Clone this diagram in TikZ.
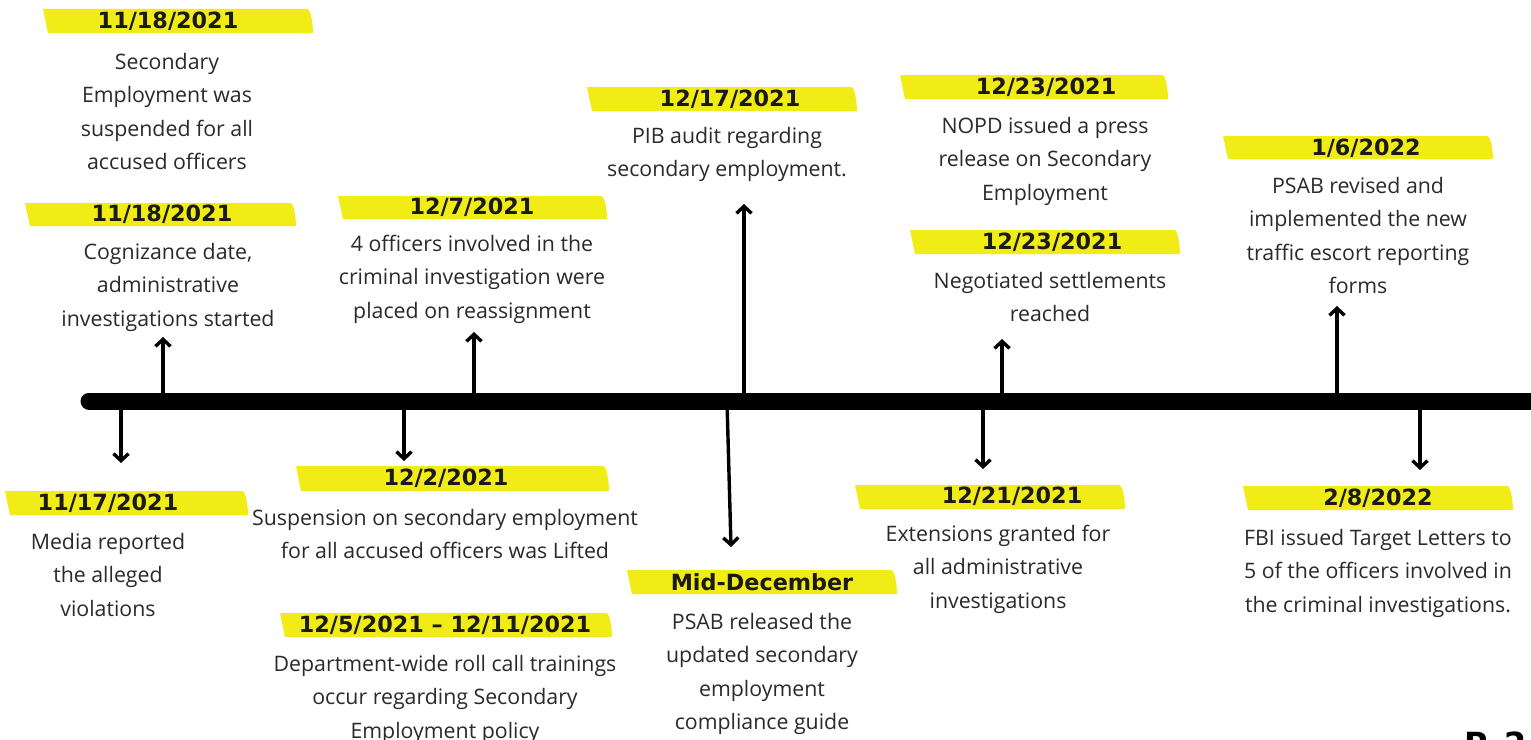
\documentclass[tikz,border=0pt]{standalone}
\usepackage{fontspec}
\setmainfont{Open Sans}
\newfontfamily\datefont{DejaVu Sans}
\usetikzlibrary{arrows.meta}
\definecolor{hly}{RGB}{241,236,22}
\definecolor{bodyc}{RGB}{42,42,42}
\definecolor{datec}{RGB}{26,26,26}
\tikzset{
  datetxt/.style={font=\datefont\bfseries\fontsize{22.4}{26}\selectfont, text=datec, inner sep=0pt},
  bodytxt/.style={font=\fontsize{21.4}{33.6}\selectfont, text=bodyc, align=center, inner sep=0pt, anchor=north},
  timeline/.style={line width=17bp, line cap=round, black},
  evarrow/.style={line width=3.4bp, -{Straight Barb[length=7bp,width=15bp]}, black},
}
% highlight: xl, yt, xr, yb
\newcommand\hlband[4]{%
  \fill[hly] (#1,#2) -- ({#3-6},#2) .. controls ({#3-2},#2) and (#3,{#4-8}) .. (#3,#4) -- ({#1+5},#4) -- cycle;}
\begin{document}
\begin{tikzpicture}[x=1bp,y=-1bp]
\useasboundingbox (0,0) rectangle (1531,740);
\fill[white] (0,0) rectangle (1531,740);

% timeline
\coordinate (tl) at (89,401);
\coordinate (tr) at (1560,401);
\draw[timeline] (tl) -- (tr);

% ---------- upper events ----------
\hlband{43}{9}{313}{33}
\node[datetxt] (d1) at (168,21) {11/18/2021};
\node[bodytxt] (b1) at (167,53) {Secondary\\Employment was\\suspended for all\\accused officers};

\hlband{25}{203}{296}{226}
\node[datetxt] (d2) at (162,214) {11/18/2021};
\node[bodytxt] (b2) at (168,243) {Cognizance date,\\administrative\\investigations started};

\hlband{338}{196}{607}{219}
\node[datetxt] (d3) at (472,207) {12/7/2021};
\node[bodytxt] (b3) at (472,235) {4 officers involved in the\\criminal investigation were\\placed on reassignment};

\hlband{587}{87}{857}{111}
\node[datetxt] (d4) at (730,99) {12/17/2021};
\node[bodytxt] (b4) at (727,127) {PIB audit regarding\\secondary employment.};

\hlband{900}{75}{1168}{99}
\node[datetxt] (d5) at (1046,87) {12/23/2021};
\node[bodytxt] (b5) at (1045,117) {NOPD issued a press\\release on Secondary\\Employment};

\hlband{910}{230}{1180}{254}
\node[datetxt] (d6) at (1052,242) {12/23/2021};
\node[bodytxt] (b6) at (1050,272) {Negotiated settlements\\reached};

\hlband{1223}{136}{1493}{159}
\node[datetxt] (d7) at (1366,148) {1/6/2022};
\node[bodytxt] (b7) at (1358,177) {PSAB revised and\\implemented the new\\traffic escort reporting\\forms};

% ---------- lower events ----------
\hlband{5}{491}{248}{515}
\node[datetxt] (d8) at (108,503) {11/17/2021};
\node[bodytxt] (b8) at (108,533) {Media reported\\the alleged\\violations};

\hlband{296}{466}{609}{491}
\node[datetxt] (d9) at (446,478) {12/2/2021};
\node[bodytxt] (b9) at (445,509) {Suspension on secondary employment\\for all accused officers was Lifted};

\hlband{280}{613}{612}{637}
\node[datetxt] (d10) at (445,625) {12/5/2021 – 12/11/2021};
\node[bodytxt] (b10) at (445,655) {Department-wide roll call trainings\\occur regarding Secondary\\Employment policy};

\hlband{627}{570}{897}{594}
\node[datetxt] (d11) at (762,582) {Mid-December};
\node[bodytxt] (b11) at (762,613) {PSAB released the\\updated secondary\\employment\\compliance guide};

\hlband{855}{485}{1125}{509}
\node[datetxt] (d12) at (1012,496) {12/21/2021};
\node[bodytxt] (b12) at (998,525) {Extensions granted for\\all administrative\\investigations};

\hlband{1243}{486}{1513}{510}
\node[datetxt] (d13) at (1378,498) {2/8/2022};
\node[bodytxt] (b13) at (1378,529) {FBI issued Target Letters to\\5 of the officers involved in\\the criminal investigations.};

% page number (cut off by page edge)
\node[font=\datefont\bfseries\fontsize{32}{38}\selectfont, anchor=north west, inner sep=0pt] (pg) at (1464,732) {P. 2};

% ---------- arrows ----------
\coordinate (u1s) at (163,401); \coordinate (u1e) at (163,337);
\coordinate (u2s) at (474,401); \coordinate (u2e) at (474,332);
\coordinate (u3s) at (744,401); \coordinate (u3e) at (744,204);
\coordinate (u4s) at (1002,401); \coordinate (u4e) at (1002,339);
\coordinate (u5s) at (1337,401); \coordinate (u5e) at (1337,306);
\coordinate (l1s) at (121,401); \coordinate (l1e) at (121,463);
\coordinate (l2s) at (404,401); \coordinate (l2e) at (404,461);
\coordinate (l3s) at (727,401); \coordinate (l3e) at (731,547);
\coordinate (l4s) at (983,401); \coordinate (l4e) at (983,469);
\coordinate (l5s) at (1420,401); \coordinate (l5e) at (1420,470);
\foreach \a in {u1,u2,u3,u4,u5,l1,l2,l3,l4,l5}
  \draw[evarrow] (\a s) -- (\a e);
\end{tikzpicture}
\end{document}
